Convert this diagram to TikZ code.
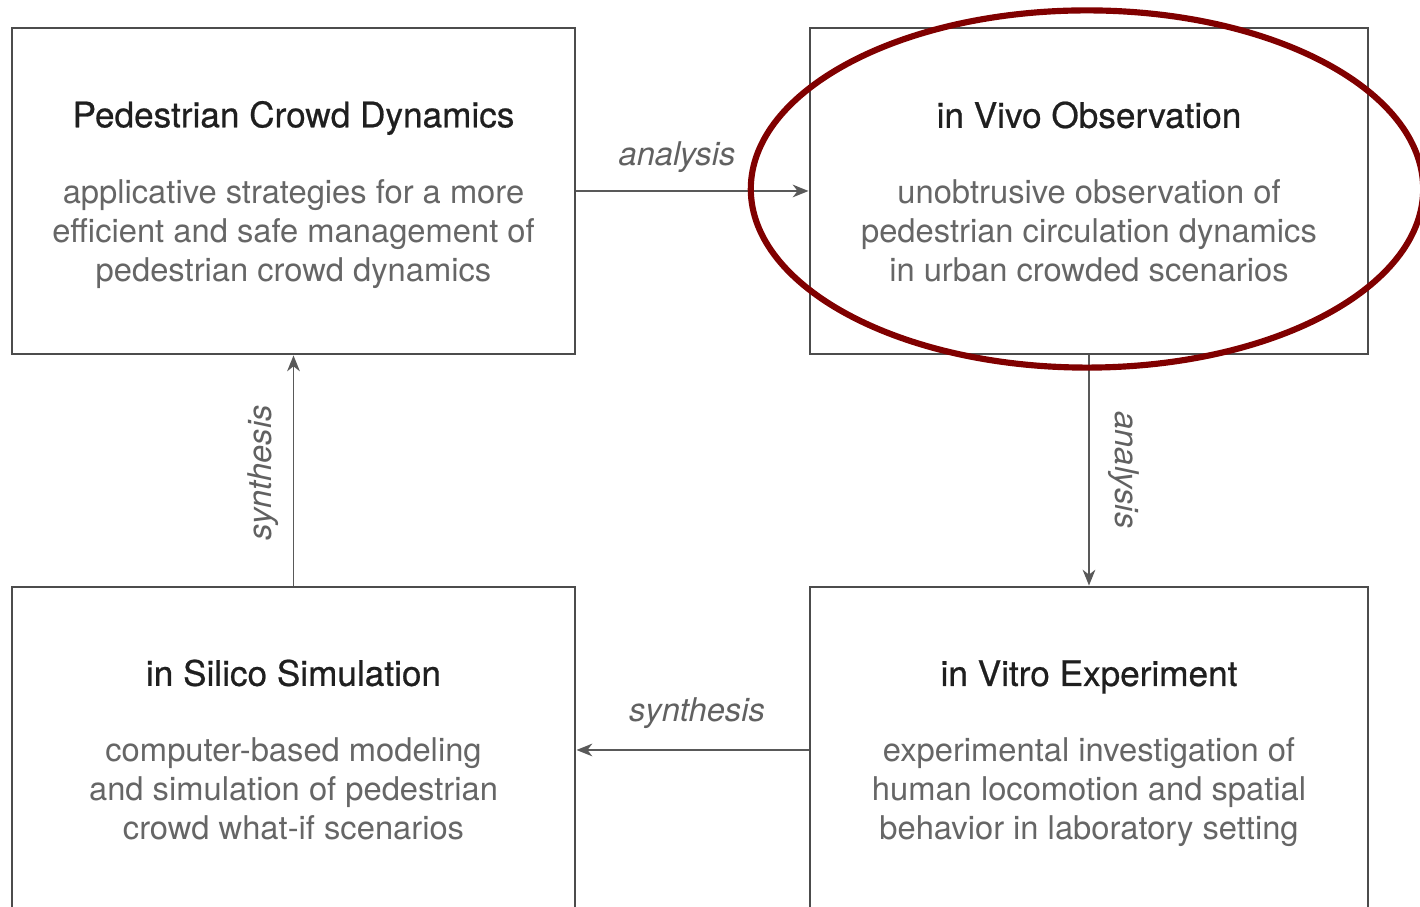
\documentclass[tikz,border=0pt]{standalone}
\usepackage{fontspec}
\setmainfont{TeX Gyre Heros}
\newfontfamily\titlefont{TeX Gyre Heros}[FakeBold=0.6]
\usetikzlibrary{arrows.meta}
\definecolor{ringred}{RGB}{128,0,0}
\begin{document}
\begin{tikzpicture}[x=0.01cm,y=-0.01cm,
  box/.style={draw=black!70, line width=0.75pt, minimum height=3.26cm, inner sep=0pt},
  ttl/.style={font=\titlefont\fontsize{10}{12}\selectfont, text=black!88},
  body/.style={font=\fontsize{9.3}{11.1}\selectfont, text=black!60, align=center},
  flow/.style={draw=black!65, line width=0.55pt, -{Stealth[length=4.5pt,width=3.6pt,inset=1.4pt]}},
  lbl/.style={font=\itshape\fontsize{9.3}{11}\selectfont, text=black!62}]
\useasboundingbox (0,0) rectangle (1420,907);
\clip (0,0) rectangle (1420,907);

% the four stages
\node[box, minimum width=5.63cm] (pcd) at (293.5,191) {};
\node[box, minimum width=5.58cm] (vivo) at (1089,191) {};
\node[box, minimum width=5.63cm] (silico) at (293.5,750) {};
\node[box, minimum width=5.58cm] (vitro) at (1089,750) {};

% titles
\node[ttl] (pcdT) at (293.5,118) {Pedestrian Crowd Dynamics};
\node[ttl] (vivoT) at (1089,115) {in Vivo Observation};
\node[ttl] (silicoT) at (293.5,673) {in Silico Simulation};
\node[ttl] (vitroT) at (1089,677) {in Vitro Experiment};

% descriptions
\node[body] (pcdB) at (293.5,234) {applicative strategies for a more\\efficient and safe management of\\pedestrian crowd dynamics};
\node[body] (vivoB) at (1089,231) {unobtrusive observation of\\pedestrian circulation dynamics\\in urban crowded scenarios};
\node[body] (silicoB) at (293.5,789) {computer-based modeling\\and simulation of pedestrian\\crowd what-if scenarios};
\node[body] (vitroB) at (1089,792) {experimental investigation of\\human locomotion and spatial\\behavior in laboratory setting};

% cycle of connectors
\draw[flow] (pcd.east) -- (vivo.west);
\draw[flow] (vivo.south) -- (vitro.north);
\draw[flow] (vitro.west) -- (silico.east);
\draw[flow] (silico.north) -- (pcd.south);

\node[lbl] (l1) at (677,157) {analysis};
\node[lbl, rotate=-90] (l2) at (1124,470) {analysis};
\node[lbl] (l3) at (697,713) {synthesis};
\node[lbl, rotate=90] (l4) at (263,473) {synthesis};

% highlight around the observation stage
\draw[ringred, line width=1.75pt] (1087,189) ellipse [x radius=3.36cm, y radius=1.785cm];
\end{tikzpicture}
\end{document}
